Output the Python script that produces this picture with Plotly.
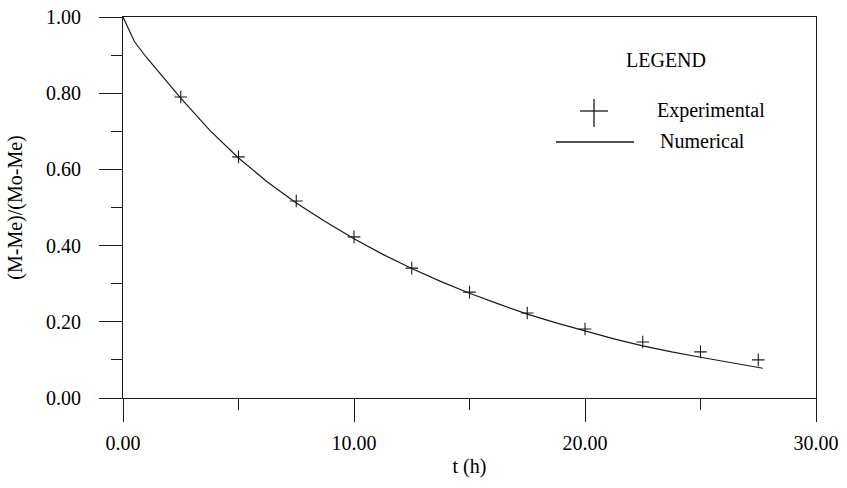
import plotly.graph_objects as go

# Experimental data
t_exp = [2.5, 5.0, 7.5, 10.0, 12.5, 15.0, 17.5, 20.0, 22.5, 25.0, 27.5]
m_exp = [0.790, 0.633, 0.517, 0.423, 0.341, 0.278, 0.223, 0.181, 0.147, 0.121, 0.100]

# Numerical solution
t_num = [0, 0.5, 1.0, 1.5, 2.0, 2.5, 3.75, 5.0, 6.25, 7.5, 8.75, 10.0, 11.25, 12.5,
         13.75, 15.0, 16.25, 17.5, 18.75, 20.0, 21.25, 22.5, 23.75, 25.0, 26.25, 27.7]
m_num = [1.000, 0.935, 0.895, 0.860, 0.822, 0.787, 0.703, 0.630, 0.567, 0.512, 0.463,
         0.418, 0.377, 0.340, 0.306, 0.275, 0.247, 0.220, 0.197, 0.176, 0.155, 0.137,
         0.121, 0.107, 0.093, 0.078]

x_ticks = [0, 10, 20, 30]
y_ticks = [0.0, 0.2, 0.4, 0.6, 0.8, 1.0]

FONT = "Liberation Serif"
INK = "#1a1a1a"
FS = 20
W, H = 847, 488
L, R, T, B = 123, 31, 17, 90

fig = go.Figure()
fig.add_trace(go.Scatter(x=t_num, y=m_num, mode="lines", name="Numerical",
                         line=dict(color=INK, width=1.2)))
fig.add_trace(go.Scatter(x=t_exp, y=m_exp, mode="markers", name="Experimental",
                         marker=dict(symbol="cross-thin", size=9,
                                     line=dict(color=INK, width=1.1))))

axis_common = dict(showgrid=False, zeroline=False, showline=True, mirror=True,
                   linecolor=INK, linewidth=1, ticks="outside", tickcolor=INK,
                   tickwidth=1, ticklen=23, tickformat=".2f", automargin=False,
                   tickfont=dict(family=FONT, size=FS, color="black"))

fig.update_xaxes(range=[0, 30], tickvals=x_ticks, ticklabelstandoff=4,
                 minor=dict(dtick=5, ticklen=11, ticks="outside", tickcolor=INK, tickwidth=1),
                 title=dict(text="t (h)", font=dict(family=FONT, size=FS, color="black"),
                            standoff=5),
                 **axis_common)
fig.update_yaxes(range=[0, 1], tickvals=y_ticks, ticklabelstandoff=14,
                 minor=dict(dtick=0.1, ticklen=11, ticks="outside", tickcolor=INK, tickwidth=1),
                 title=dict(text="(M-Me)/(Mo-Me)", font=dict(family=FONT, size=FS, color="black"),
                            standoff=18),
                 **axis_common)

pw, ph = W - L - R, H - T - B
def px(xp):
    return (xp - L) / pw
def py(yp):
    return 1 - (yp - T) / ph

# Legend block
fig.add_annotation(x=px(666), y=py(60), xref="paper", yref="paper", text="LEGEND",
                   xanchor="center", yanchor="middle",
                   showarrow=False, font=dict(family=FONT, size=FS, color="black"))
fig.add_annotation(x=px(655), y=py(111), xref="paper", yref="paper", text="Experimental",
                   xanchor="left", yanchor="middle",
                   showarrow=False, font=dict(family=FONT, size=FS, color="black"))
fig.add_annotation(x=px(658), y=py(141), xref="paper", yref="paper", text="Numerical",
                   xanchor="left", yanchor="middle",
                   showarrow=False, font=dict(family=FONT, size=FS, color="black"))
fig.add_shape(type="line", xref="paper", yref="paper", x0=px(580), x1=px(608),
              y0=py(111), y1=py(111), line=dict(color=INK, width=1.3))
fig.add_shape(type="line", xref="paper", yref="paper", x0=px(594), x1=px(594),
              y0=py(99), y1=py(127), line=dict(color=INK, width=1.3))
fig.add_shape(type="line", xref="paper", yref="paper", x0=px(556), x1=px(634),
              y0=py(142), y1=py(142), line=dict(color=INK, width=1.3))

fig.update_layout(width=W, height=H, margin=dict(l=L, r=R, t=T, b=B),
                  paper_bgcolor="white", plot_bgcolor="white", showlegend=False,
                  font=dict(family=FONT, color="black"))

fig.write_html("out.html", config={"displayModeBar": False},
               post_script="document.body.style.margin='0px';document.body.style.overflow='hidden';")
